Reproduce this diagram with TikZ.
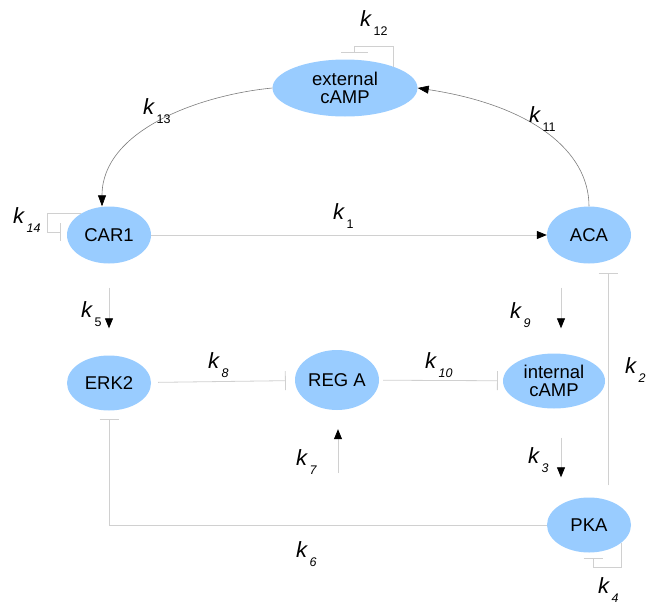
\documentclass[tikz,border=0pt]{standalone}
\usepackage{fontspec}
\setmainfont{Liberation Sans}
\usetikzlibrary{shapes.geometric,arrows.meta,calc}
\definecolor{nodeblue}{RGB}{153,204,255}
\definecolor{lgray}{RGB}{208,208,208}
\definecolor{dgray}{RGB}{125,125,125}
\newcommand{\kl}[1]{\textit{k}\hspace{1.5pt}\raisebox{-9pt}{\fontsize{12.5}{12.5}\selectfont #1}}
\begin{document}
\begin{tikzpicture}[x=1pt,y=-1pt,
 ent/.style={ellipse, fill=nodeblue, draw=none, inner sep=0pt, minimum width=84pt, minimum height=57pt, font=\fontsize{18.5}{18}\selectfont, align=center},
 act/.style={draw=lgray, line width=0.8pt, -{Triangle[length=10pt,width=8pt,color=black]}},
 inh/.style={draw=lgray, line width=0.8pt, -{Bar[width=19pt]}},
 curv/.style={draw=dgray, line width=0.6pt, -{Triangle[length=11pt,width=8pt,color=black]}},
 klab/.style={anchor=base west, inner sep=0pt, font=\fontsize{22}{22}\selectfont}]
\useasboundingbox (0,0) rectangle (650,605);
% nodes
\node[ent, minimum width=145pt] (ext) at (345,88) {external\\cAMP};
\node[ent] (car) at (109,235) {CAR1};
\node[ent] (aca) at (589,235) {ACA};
\node[ent, minimum height=55pt] (erk) at (109,383) {ERK2};
\node[ent, minimum height=60pt] (reg) at (337,380) {REG A};
\node[ent, minimum width=102pt, minimum height=55pt] (int) at (554,381) {internal\\cAMP};
\node[ent, minimum height=55pt] (pka) at (589,525) {PKA};
% connectors
\draw[act] (car.east) -- (aca.west);
\draw[act, shorten <=24pt, shorten >=27pt] (car) -- (erk);
\draw[act] ($(aca.south)+(-28,24)$) -- ($(int.north)+(7,-25)$);
\draw[act] ($(int.south)+(7,29)$) -- ($(pka.north)+(-28,-20)$);
\draw[act] ($(reg.south)+(1,63)$) -- ($(reg.south)+(1,19)$);
\draw[inh, shorten <=7pt, shorten >=9pt] (erk) -- (reg);
\draw[inh, shorten <=4pt, shorten >=5pt] (reg) -- (int);
\draw[inh] ($(pka.north)+(19,-12)$) -- ($(aca.south)+(19,9)$);
\draw[inh, shorten >=8.5pt] (pka.west) -| (erk.south);
\draw[curv] (ext.west) .. controls (200,95) and (102,130) .. ([xshift=-7pt]car.north);
\draw[curv] (aca.north) .. controls (589,150) and (530,105) .. (ext.east);
% self loops
\draw[inh, -{Bar[width=27pt]}] (ext.24) -- ++(0,-20) -| (354,53);
\draw[inh, -{Bar[width=18pt]}] (car.143) -- ++(-33,0) |- (61,232);
\draw[inh] (pka.-29) -- ++(0,25) -| (593,558);
% labels
\node[klab] (l12) at (360,27) {\kl{12}};
\node[klab] (l13) at (143,114) {\kl{13}};
\node[klab] (l11) at (529,122) {\kl{11}};
\node[klab] (l14) at (13,223) {\kl{\textit{14}}};
\node[klab] (l1) at (333,219) {\kl{1}};
\node[klab] (l5) at (81,317) {\kl{5}};
\node[klab] (l9) at (510,318) {\kl{\textit{9}}};
\node[klab] (l8) at (208,368) {\kl{\textit{8}}};
\node[klab] (l10) at (425,368) {\kl{\textit{10}}};
\node[klab] (l2) at (625,373) {\kl{\textit{2}}};
\node[klab] (l3) at (528,463) {\kl{\textit{3}}};
\node[klab] (l7) at (296,465) {\kl{\textit{7}}};
\node[klab] (l6) at (296,557) {\kl{\textit{6}}};
\node[klab] (l4) at (598,593) {\kl{\textit{4}}};
\end{tikzpicture}
\end{document}
